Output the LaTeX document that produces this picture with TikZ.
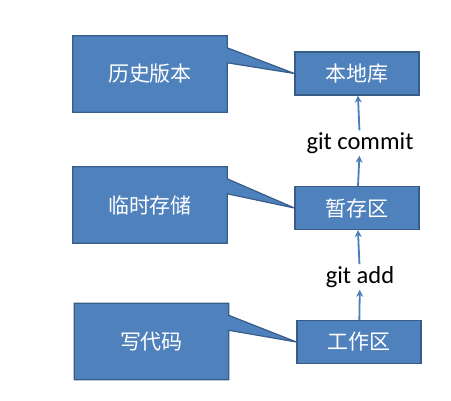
\documentclass[tikz,border=0pt]{standalone}
\usepackage{fontspec}
\setmainfont{Carlito}
\newfontfamily\cjk{Noto Sans CJK SC}
\usepackage{xcolor}
\usepackage{tikz}
\usetikzlibrary{arrows.meta,positioning,calc,backgrounds}
\definecolor{boxfill}{RGB}{79,129,189}
\definecolor{boxline}{RGB}{56,93,138}
\definecolor{arrline}{RGB}{74,126,187}
\tikzset{
  area/.style={draw=boxline,fill=boxfill,line width=1.2pt,text=white,minimum width=124pt,minimum height=43pt,font=\cjk\fontsize{21}{24}\selectfont},
  note/.style={minimum width=154pt,minimum height=76pt,text=white,font=\cjk\fontsize{21}{24}\selectfont},
  bubble/.style={draw=boxline,fill=boxfill,line width=1.2pt,line join=miter},
  cmd/.style={font=\fontsize{24.5}{28}\selectfont,inner sep=2pt},
  arr/.style={-{Stealth[length=7pt,width=7pt]},draw=arrline,line width=1.8pt},
}
\begin{document}
\begin{tikzpicture}[x=1pt,y=-1pt]
\useasboundingbox (0,0) rectangle (451,401);
\node[area] (repo) at (357,73.5) {本地库};
\node[area] (stage) at (357,208) {暂存区};
\node[area] (work) at (359,342) {工作区};
\node[cmd] (commit) at (360,143) {git commit};
\node[cmd] (add) at (360,277) {git add};
\node[note] (hist) at (150,74) {历史版本};
\node[note] (temp) at (150,205) {临时存储};
\node[note] (code) at (151.5,341.5) {写代码};
% callouts behind the text
\begin{pgfonlayer}{background}
\foreach \n/\t in {hist/repo,temp/stage,code/work}
  \draw[bubble] (\n.north west) -- (\n.north east) -- ($(\n.north east)+(0,12)$)
    -- (\t.west) -- ($(\n.north east)+(0,27)$) -- (\n.south east)
    -- (\n.south west) -- cycle;
\end{pgfonlayer}
\draw[arr] (commit) -- (repo);
\draw[arr] (stage) -- (commit);
\draw[arr] (add) -- (stage);
\draw[arr] (work) -- (add);
\end{tikzpicture}
\end{document}
